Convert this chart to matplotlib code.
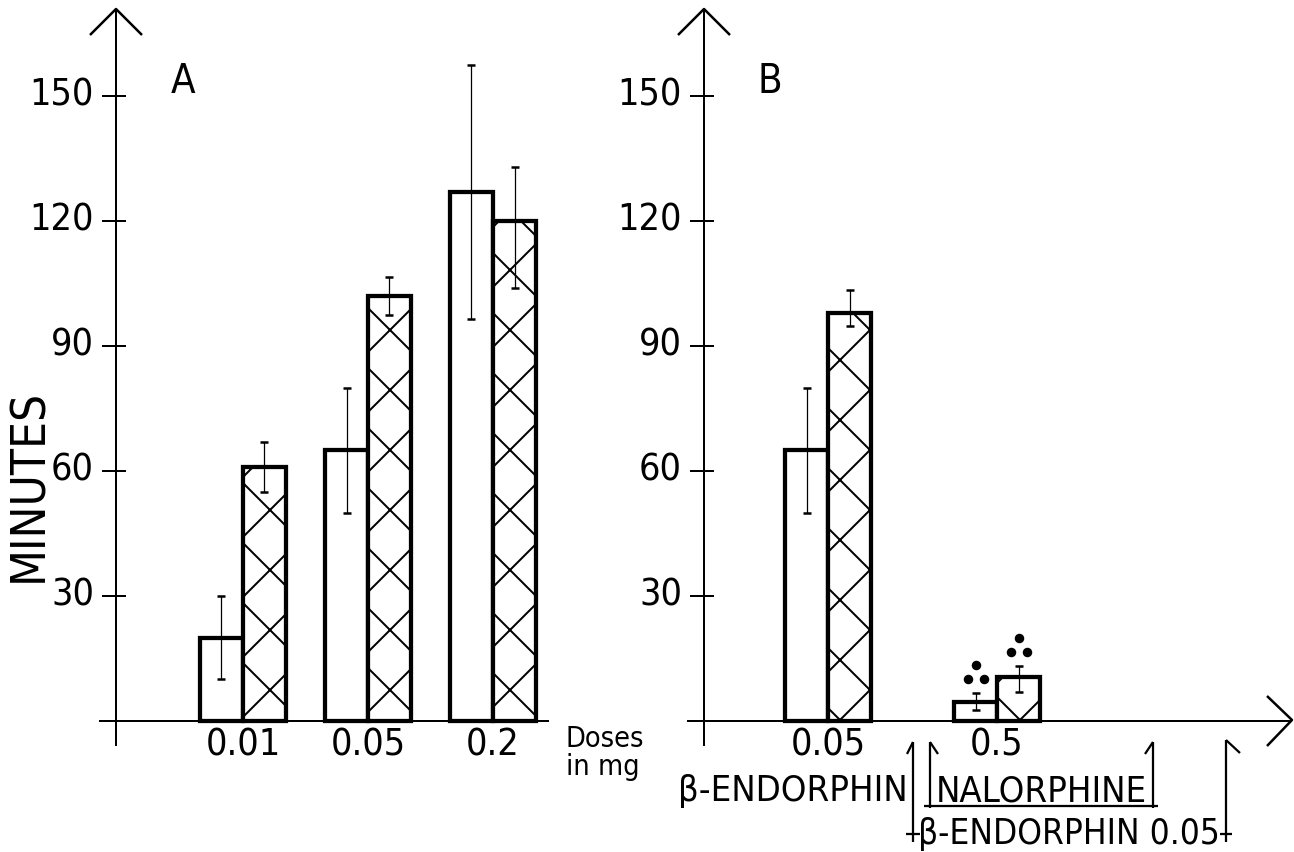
import os
import matplotlib
matplotlib.use('Agg')
import matplotlib.pyplot as plt
from matplotlib.lines import Line2D
from matplotlib import font_manager
from matplotlib.font_manager import FontProperties

# ---------------- data ----------------
doses_a = ['0.01', '0.05', '0.2']
a_plain = [20, 65, 127]
a_plain_err = [10, 15, 30.5]
a_hatch = [61, 102, 120]
a_hatch_err_lo = [6, 4.5, 16]
a_hatch_err_hi = [6, 4.5, 13]

doses_b = ['0.05', '0.5']
b_plain = [65, 4.6]
b_plain_err = [15, 2.0]
b_hatch = [98, 10.6]
b_hatch_err_lo = [3.3, 3.6]
b_hatch_err_hi = [5.5, 2.6]
b_signif = [False, True]

yticks = [30, 60, 90, 120, 150]

# ---------------- fonts: look for a condensed sans ----------------
prefs = ['NotoSans-CondensedMedium', 'NotoSans-Condensed.', 'NotoSans-CondensedSemiBold',
         'DejaVuSansCondensed.', 'LiberationSansNarrow-Regular',
         'RobotoCondensed-Medium', 'RobotoCondensed-Regular',
         'OpenSans-CondensedMedium', 'OpenSans-CondensedRegular', 'OpenSansCondensed',
         'Condensed', 'Narrow']
files = [f.fname for f in font_manager.fontManager.ttflist]
FP = None
for p in prefs:
    hits = [fn for fn in files if p in os.path.basename(fn)
            and 'Italic' not in fn and 'Oblique' not in fn]
    if hits:
        FP = FontProperties(fname=sorted(hits, key=len)[0])
        break
if FP is None:
    FP = FontProperties(family='Roboto', weight='medium')

plt.rcParams['hatch.linewidth'] = 0.8

W, H = 1294, 852
DPI = 180
fig = plt.figure(figsize=(W / DPI, H / DPI), dpi=DPI)

PX = 125.0      # pixels per x unit
PY = 4.1667     # pixels per minute
Y0 = 721        # pixel row of 0 minutes


def fp(size):
    f = FP.copy()
    f.set_size(size)
    return f


def fig_line(xs, ys, lw=0.9):
    fig.add_artist(Line2D([x / W for x in xs], [1 - y / H for y in ys],
                          transform=fig.transFigure, color='black', lw=lw,
                          solid_capstyle='butt'))


def fig_text(x, y, s, size, ha='center', va='center', **kw):
    fig.text(x / W, 1 - y / H, s, fontproperties=fp(size), ha=ha, va=va, **kw)


def make_axes(left_px, center_px):
    ax = fig.add_axes([left_px / W, 0, 0.5, 1])
    ax.set_xlim((left_px - center_px) / PX, (left_px + W / 2 - center_px) / PX)
    ax.set_ylim((Y0 - H) / PY, Y0 / PY)
    ax.axis('off')
    return ax


BW = 43 / PX
bar_kw = dict(edgecolor='black', linewidth=1.7, zorder=2)
err_kw = dict(fmt='none', ecolor='black', elinewidth=0.5, capsize=1.6,
              capthick=1.0, zorder=4)
TICK_FS = 15


def draw_panel(ax, pos, plain, plain_err, hatch, hlo, hhi, labels, yaxis_x,
               base_l, base_r):
    xp = [p - BW / 2 for p in pos]
    xh = [p + BW / 2 for p in pos]
    ax.bar(xp, plain, width=BW, color='white', **bar_kw)
    ax.bar(xh, hatch, width=BW, color='white', hatch='x', **bar_kw)
    ax.errorbar(xp, plain, yerr=plain_err, **err_kw)
    ax.errorbar(xh, hatch, yerr=[hlo, hhi], **err_kw)
    # axes lines
    ax.plot([base_l, base_r], [0, 0], color='black', lw=0.8, zorder=3)
    ax.plot([yaxis_x, yaxis_x], [-24 / PY, (Y0 - 10) / PY], color='black',
            lw=0.8, zorder=3)
    # y ticks
    for t in yticks:
        ax.plot([yaxis_x - 13 / PX, yaxis_x + 9 / PX], [t, t], color='black',
                lw=0.8)
        ax.text(yaxis_x - 22 / PX, t, str(t), fontproperties=fp(TICK_FS),
                ha='right', va='center')
    # x labels
    for p, lab in zip(pos, labels):
        ax.text(p, -24 / PY, lab, fontproperties=fp(TICK_FS), ha='center',
                va='center')
    return xp, xh


# ---------------- panel A ----------------
axA = make_axes(0, 243)
draw_panel(axA, [0, 1, 2], a_plain, a_plain_err, a_hatch, a_hatch_err_lo,
           a_hatch_err_hi, doses_a, (116 - 243) / PX, (100 - 243) / PX,
           (548 - 243) / PX)

# ---------------- panel B ----------------
axB = make_axes(W / 2, 828)
posB = [0, 169 / PX]
xp, xh = draw_panel(axB, posB, b_plain, b_plain_err, b_hatch, b_hatch_err_lo,
                    b_hatch_err_hi, doses_b, (704 - 828) / PX,
                    (688 - 828) / PX, (1291 - 828) / PX)

# significance dots (three in a triangle)
dx = 8 / PX
for i, sig in enumerate(b_signif):
    if not sig:
        continue
    for xc, top in ((xp[i], b_plain[i] + b_plain_err[i]),
                    (xh[i], b_hatch[i] + b_hatch_err_hi[i])):
        axB.plot([xc, xc - dx, xc + dx], [top + 6.8, top + 3.4, top + 3.4],
                 'o', color='black', markersize=2.8, zorder=5)

# arrow heads
fig_line([90, 116, 142], [35, 9, 35], lw=1.0)
fig_line([678, 704, 730], [35, 9, 35], lw=1.0)
fig_line([1267, 1292, 1267], [696, 720, 746], lw=1.0)

# panel letters
fig_text(183, 82, 'A', 16)
fig_text(770, 82, 'B', 16)

# y label
fig_text(29, 485, 'MINUTES', 19, rotation=90)

# doses in mg
fig_text(605, 739, 'Doses', 11.5)
fig_text(603, 767, 'in mg', 11.5)

# panel B bottom labels
fig_text(793, 791, 'β-ENDORPHIN', 14.5)
fig_text(1041, 791, 'NALORPHINE', 14.5)
fig_text(1069, 834, 'β-ENDORPHIN 0.05', 14)

# brackets
fig_line([913, 913], [742, 842])
fig_line([913, 907], [742, 754])
fig_line([906, 920], [834, 834])
fig_line([930, 930], [742, 808])
fig_line([930, 938], [742, 754])
fig_line([924, 1158], [806, 806])
fig_line([1153, 1153], [742, 808])
fig_line([1153, 1145], [742, 754])
fig_line([1226, 1226], [740, 842])
fig_line([1226, 1240], [740, 753])
fig_line([1220, 1232], [834, 834])

fig.savefig('out.png', dpi=DPI, facecolor='white')
